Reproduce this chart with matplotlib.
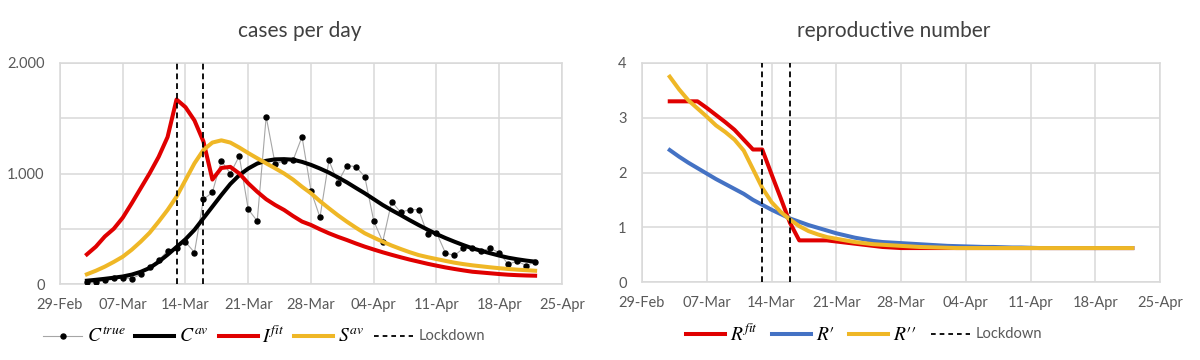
import matplotlib
matplotlib.use('Agg')
import matplotlib.pyplot as plt
from matplotlib.lines import Line2D
from matplotlib.transforms import ScaledTranslation
import pandas as pd

# ---------------- data ----------------
dates = pd.date_range('2020-03-03', '2020-04-22', freq='D')
tick_dates = pd.date_range('2020-02-29', '2020-04-25', freq='7D')
tick_labels = [d.strftime('%d-%b') for d in tick_dates]
lockdown_dates = [pd.Timestamp('2020-03-13'), pd.Timestamp('2020-03-16')]

c_true = [15, 15, 35, 50, 57, 48, 88, 157, 214, 299, 330, 380, 285, 765, 830,
          1115, 1000, 1158, 676, 570, 1514, 1086, 1115, 1120, 1333, 842, 604,
          1118, 918, 1072, 1062, 971, 570, 383, 745, 649, 673, 673, 450, 464,
          280, 258, 323, 330, 300, 323, 283, 178, 208, 166, 202]
c_av = [30, 38, 47, 57, 68, 85, 110, 145, 200, 265, 335, 405, 490, 595, 700,
        805, 905, 985, 1045, 1090, 1115, 1128, 1130, 1125, 1105, 1078, 1045,
        1008, 965, 920, 870, 821, 768, 715, 668, 624, 578, 534, 492, 452, 416,
        383, 352, 323, 300, 278, 257, 238, 224, 212, 202]
i_fit = [268, 338, 430, 500, 600, 730, 866, 1002, 1150, 1330, 1670, 1600, 1480,
         1290, 945, 1050, 1060, 1000, 911, 835, 767, 715, 670, 615, 565, 534,
         495, 459, 427, 398, 367, 338, 312, 287, 264, 242, 221, 202, 183, 166,
         150, 136, 123, 111, 104, 97, 90, 84, 80, 77, 75]
s_av = [88, 120, 157, 200, 247, 310, 383, 464, 564, 670, 790, 941, 1092, 1213,
        1280, 1300, 1280, 1235, 1185, 1138, 1092, 1047, 1000, 945, 880, 821,
        750, 685, 622, 564, 510, 459, 420, 383, 348, 317, 288, 262, 243, 226,
        209, 193, 180, 169, 160, 151, 143, 136, 130, 125, 120]

r_fit = [3.30, 3.30, 3.30, 3.30, 3.18, 3.05, 2.92, 2.78, 2.60, 2.42, 2.42, 1.97,
         1.53, 1.08, 0.76, 0.76, 0.76, 0.76, 0.74, 0.72, 0.70, 0.68, 0.66, 0.64,
         0.63, 0.62, 0.62, 0.62, 0.62, 0.62, 0.62, 0.62, 0.62, 0.62, 0.62, 0.62,
         0.62, 0.62, 0.62, 0.62, 0.62, 0.62, 0.62, 0.62, 0.62, 0.62, 0.62, 0.62,
         0.62, 0.62, 0.62]
r_prime = [2.41, 2.29, 2.18, 2.08, 1.98, 1.88, 1.79, 1.70, 1.61, 1.50, 1.41,
           1.32, 1.24, 1.16, 1.10, 1.04, 0.99, 0.94, 0.89, 0.85, 0.81, 0.78,
           0.75, 0.73, 0.72, 0.71, 0.70, 0.69, 0.68, 0.67, 0.66, 0.655, 0.65,
           0.645, 0.64, 0.64, 0.635, 0.63, 0.63, 0.625, 0.62, 0.62, 0.62, 0.62,
           0.62, 0.62, 0.62, 0.62, 0.62, 0.62, 0.62]
r_dprime = [3.75, 3.52, 3.32, 3.17, 3.02, 2.86, 2.74, 2.60, 2.40, 2.06, 1.72,
            1.46, 1.28, 1.14, 1.02, 0.93, 0.87, 0.82, 0.79, 0.76, 0.73, 0.71,
            0.69, 0.68, 0.67, 0.66, 0.65, 0.64, 0.635, 0.63, 0.625, 0.62, 0.62,
            0.62, 0.62, 0.62, 0.62, 0.62, 0.62, 0.62, 0.62, 0.62, 0.62, 0.62,
            0.62, 0.62, 0.62, 0.62, 0.62, 0.62, 0.62]

left_yticks = [0, 1000, 2000]
left_yticklabels = ['0', '1.000', '2.000']
right_yticks = [0, 1, 2, 3, 4]
right_yticklabels = ['0', '1', '2', '3', '4']

# ---------------- style ----------------
plt.rcParams['font.family'] = ['Lato', 'DejaVu Sans']
plt.rcParams['mathtext.fontset'] = 'stix'

RED = '#e00000'
YEL = '#efb726'
BLU = '#4472c4'
GRID = '#d9d9d9'
TXT = '#595959'
LW = 2.9

fig = plt.figure(figsize=(12, 3.6), dpi=100)
W, H = 1200, 360
ax1 = fig.add_axes([60 / W, 1 - 284 / H, 502 / W, 221 / H])
ax2 = fig.add_axes([642 / W, 1 - 282 / H, 518 / W, 219 / H])


def style(ax, yticks, ylabels, ymax, minor=None):
    ax.set_xlim(tick_dates[0], tick_dates[-1])
    ax.set_ylim(0, ymax)
    ax.set_xticks(tick_dates)
    ax.set_xticklabels(tick_labels)
    ax.set_yticks(yticks)
    ax.set_yticklabels(ylabels)
    if minor is not None:
        ax.set_yticks(minor, minor=True)
        ax.tick_params(axis='y', which='minor', length=0)
        ax.grid(True, which='minor', axis='y', color=GRID, lw=1.1)
    ax.grid(True, which='major', color=GRID, lw=1.1)
    ax.set_axisbelow(True)
    for s in ax.spines.values():
        s.set_color(GRID)
        s.set_linewidth(1.1)
    ax.tick_params(axis='both', length=0, labelsize=10.5, labelcolor=TXT)
    ax.tick_params(axis='x', pad=10)
    ax.tick_params(axis='y', pad=11)


style(ax1, left_yticks, left_yticklabels, 2000, minor=[500, 1500])
style(ax2, right_yticks, right_yticklabels, 4)

dash = (0, (3.2, 2.2))

# ---- left chart ----
ax1.plot(dates, c_true, color='#a6a6a6', lw=0.8, marker='o', ms=3.6,
         mfc='black', mec='black', zorder=3)
ax1.plot(dates, c_av, color='black', lw=LW, zorder=4, solid_joinstyle='round')
ax1.plot(dates, i_fit, color=RED, lw=LW, zorder=5, solid_joinstyle='round')
ax1.plot(dates, s_av, color=YEL, lw=LW, zorder=6, solid_joinstyle='round')
for d in lockdown_dates:
    ax1.axvline(d, color='black', lw=1.3, ls=dash, zorder=7)

# ---- right chart ----
ax2.plot(dates, r_fit, color=RED, lw=LW, zorder=4, solid_joinstyle='round')
ax2.plot(dates, r_prime, color=BLU, lw=LW, zorder=5, solid_joinstyle='round')
ax2.plot(dates, r_dprime, color=YEL, lw=LW, zorder=6, solid_joinstyle='round')
for d in lockdown_dates:
    ax2.axvline(d, color='black', lw=1.3, ls=dash, zorder=7)

# ---- titles ----
fig.text(300 / W, 1 - 31 / H, 'cases per day', ha='center', va='center',
         fontsize=15, color='#404040')
fig.text(894 / W, 1 - 31 / H, 'reproductive number', ha='center', va='center',
         fontsize=15, color='#404040')


def fix_lockdown(leg):
    for t in leg.get_texts():
        if t.get_text() == 'Lockdown':
            t.set_fontsize(10.5)
            t.set_color(TXT)
            t.set_transform(t.get_transform() +
                            ScaledTranslation(0, 1.5 / 72, fig.dpi_scale_trans))


# ---- legends ----
h1 = [Line2D([], [], color='#a6a6a6', lw=0.8, marker='o', ms=3.6,
             mfc='black', mec='black'),
      Line2D([], [], color='black', lw=LW),
      Line2D([], [], color=RED, lw=LW),
      Line2D([], [], color=YEL, lw=LW),
      Line2D([], [], color='black', lw=1.3, ls=(0, (2.6, 2.2)))]
l1 = [r'$C^{true}$', r'$C^{av}$', r'$I^{fit}$', r'$S^{av}$', 'Lockdown']
leg1 = fig.legend(h1, l1, loc='center', bbox_to_anchor=(264 / W, 1 - 335 / H),
                  ncol=5, frameon=False, fontsize=14, handlelength=2.0,
                  handletextpad=0.25, columnspacing=0.5, numpoints=1)
fix_lockdown(leg1)

h2 = [Line2D([], [], color=RED, lw=LW),
      Line2D([], [], color=BLU, lw=LW),
      Line2D([], [], color=YEL, lw=LW),
      Line2D([], [], color='black', lw=1.3, ls=(0, (2.6, 2.2)))]
l2 = [r'$R^{fit}$', r'$R\prime$', r'$R\prime\prime$', 'Lockdown']
leg2 = fig.legend(h2, l2, loc='center', bbox_to_anchor=(864 / W, 1 - 333 / H),
                  ncol=4, frameon=False, fontsize=14, handlelength=2.0,
                  handletextpad=0.25, columnspacing=0.75)
fix_lockdown(leg2)

fig.savefig('out.png', dpi=100)
